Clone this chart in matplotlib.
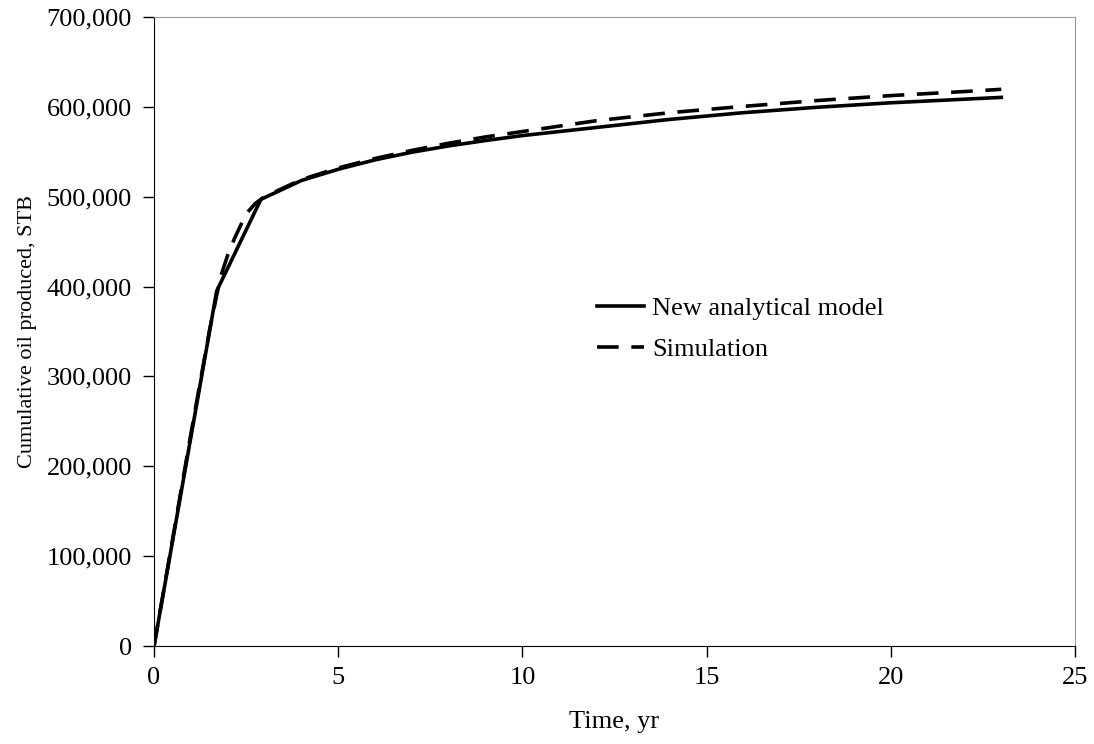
import matplotlib
matplotlib.use('Agg')
import matplotlib.pyplot as plt
from matplotlib.ticker import FuncFormatter

# Time, yr
t_model = [0, 1.7, 2.9, 4, 5, 6, 7, 8, 9, 10, 11, 12, 14, 16, 18, 20, 22, 23]
# Cumulative oil produced, STB - new analytical model
q_model = [0, 395000, 497000, 518000, 530500, 541000, 549500, 556500, 562500,
           568000, 572500, 577000, 586000, 593500, 599500, 604500, 608500, 610500]

t_sim = [0, 0.5, 1.0, 1.5, 1.8, 2.0, 2.2, 2.5, 2.75, 3.0, 4, 5, 6, 7, 8, 9, 10,
         11, 12, 14, 16, 18, 20, 22, 23]
q_sim = [0, 118000, 236000, 350000, 410000, 435000, 455000, 481000, 492500, 500000,
         519000, 532000, 542500, 551500, 559500, 566500, 572500, 578500, 584500,
         593500, 600500, 607000, 612500, 617000, 619500]

plt.rcParams['font.family'] = ['Liberation Serif', 'DejaVu Serif']

fig = plt.figure(figsize=(10.94, 7.44), dpi=100)
ax = fig.add_axes([0.1408, 0.1317, 0.8418, 0.8455])

ax.plot(t_model, q_model, color='black', lw=2.6, label='New analytical model')
ax.plot(t_sim, q_sim, color='black', lw=2.6, dashes=(6, 3.5), label='Simulation')

ax.set_xlim(0, 25)
ax.set_ylim(0, 700000)
ax.set_xticks(range(0, 26, 5))
ax.set_yticks(range(0, 700001, 100000))
ax.yaxis.set_major_formatter(FuncFormatter(lambda v, p: f'{int(v):,}'))

ax.tick_params(direction='out', length=8, width=1, labelsize=19)
ax.tick_params(axis='y', pad=8)
ax.tick_params(axis='x', pad=7)
for s in ['top', 'right']:
    ax.spines[s].set_color('#999999')
for s in ['left', 'bottom']:
    ax.spines[s].set_color('black')

ax.set_xlabel('Time, yr', fontsize=19, labelpad=16)
ax.set_ylabel('Cumulative oil produced, STB', fontsize=16, labelpad=7)

ax.legend(loc='center left', bbox_to_anchor=(0.455, 0.504), frameon=False,
          fontsize=19, handlelength=1.8, handletextpad=0.3, labelspacing=0.65)

fig.savefig('out.png', dpi=100)
